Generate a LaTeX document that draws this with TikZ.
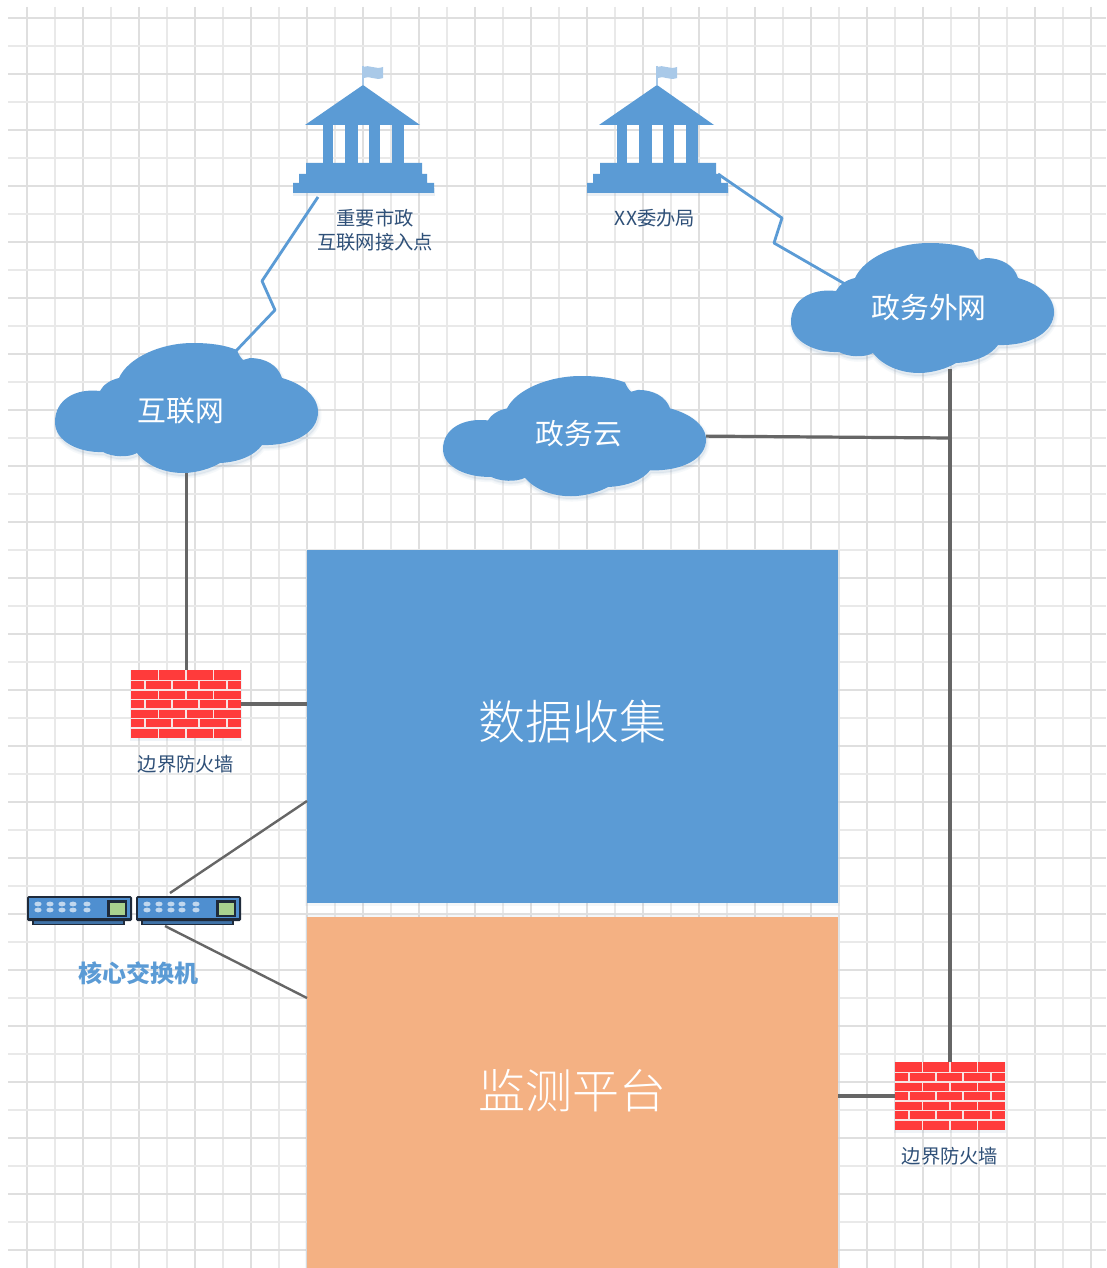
\documentclass[tikz,border=0pt]{standalone}
\usepackage{fontspec}
\setmainfont{Noto Sans CJK SC}
\newfontfamily\lightcjk[UprightFont=* Light]{Noto Sans CJK SC}
\usetikzlibrary{calc}
\definecolor{bluefill}{HTML}{5B9BD5}
\definecolor{orangefill}{HTML}{F4B183}
\definecolor{flagblue}{HTML}{A9C9E8}
\definecolor{gridA}{HTML}{DFDFDF}
\definecolor{gridB}{HTML}{E9E9E9}
\definecolor{wire}{HTML}{666666}
\definecolor{labelblue}{HTML}{2F5078}
\definecolor{brick}{HTML}{FF3B3B}
\definecolor{mortar}{HTML}{F8E4E4}
\definecolor{swdark}{HTML}{1F2A3A}
\definecolor{swblue}{HTML}{4F8FD0}
\definecolor{swgreen}{HTML}{A9D18E}
\definecolor{shadowblue}{HTML}{7F9FBF}
\tikzset{
  x=1pt,y=-1pt,
  gridmajor/.style={gridA,line width=1.7pt},
  gridminor/.style={gridB,line width=1.5pt},
  anchorbox/.style={rectangle,inner sep=0pt,outer sep=0pt,draw=none},
  wireline/.style={wire,line width=3.2pt},
  thinwire/.style={wire,line width=2.4pt},
  zigzag/.style={bluefill,line width=2.8pt},
  smalllabel/.style={inner sep=0pt,text=labelblue,font=\fontsize{19.3pt}{22pt}\selectfont},
  cloudlabel/.style={inner sep=0pt,text=white,font=\fontsize{28.8pt}{32pt}\selectfont},
  titlelabel/.style={inner sep=0pt,text=white,font=\lightcjk\fontsize{47pt}{52pt}\selectfont},
  softshadow/.style={fill=shadowblue,draw=shadowblue,opacity=.07,line join=round},
}
\newcommand{\cloudoutline}{
  (45,48) .. controls (20,45) and (0,57) .. (0,79)
  .. controls (0,99) and (25,110) .. (48,109)
  .. controls (57,114) and (73,115) .. (82,110)
  .. controls (92,123) and (110,130) .. (128,130)
  .. controls (142,130) and (157,125) .. (165,120)
  .. controls (185,119) and (200,112) .. (207,102)
  .. controls (240,103) and (263,89) .. (263,69)
  .. controls (263,52) and (245,40) .. (227,35)
  .. controls (223,22) and (210,15) .. (195,15)
  -- (188,17)
  .. controls (185,14) and (183,10) .. (182,7)
  .. controls (170,2) and (155,0) .. (138,0)
  .. controls (105,0) and (73,15) .. (64,35)
  .. controls (55,37) and (48,42) .. (45,48) -- cycle}
% name, left, top, yscale
\newcommand{\cloudshape}[4]{
  \begin{scope}[shift={(#2,#3)},yscale=#4]
    \path[softshadow,line width=5pt,shift={(1,3)}] \cloudoutline;
    \path[softshadow,line width=2pt,shift={(1,3)}] \cloudoutline;
    \fill[bluefill] \cloudoutline;
    \node[anchorbox,minimum width=263pt,minimum height={130pt*#4}] (#1) at (131.5,65) {};
  \end{scope}
}
% name, left, top
\newcommand{\firewall}[3]{
  \begin{scope}[shift={(#2,#3)}]
    \fill[shadowblue,opacity=.12] (-1,0) rectangle (111,71);
    \node[anchorbox,anchor=north west,minimum width=110pt,minimum height=68pt,fill=brick] (#1) at (0,0) {};
    \foreach \yy in {10.5,20,29.5,39,48.5,58}{\draw[mortar,line width=1.2pt] (0,\yy) -- (110,\yy);}
    \foreach \ya/\yb in {0/10.5,20/29.5,39/48.5,58/68}{
      \foreach \xx in {27.5,55,82.5}{\draw[mortar,line width=1.2pt] (\xx,\ya) -- (\xx,\yb);}
    }
    \foreach \ya/\yb in {10.5/20,29.5/39,48.5/58}{
      \foreach \xx in {14,41,68,96}{\draw[mortar,line width=1.2pt] (\xx,\ya) -- (\xx,\yb);}
    }
  \end{scope}
}
% name, apex x
\newcommand{\govbuilding}[2]{
  \begin{scope}[shift={(#2,0)}]
    \fill[flagblue] (0,67) .. controls (6,64) and (12,70) .. (20,67) -- (20,78) .. controls (12,81) and (6,75) .. (1,78) -- cycle;
    \draw[flagblue,line width=1.5pt] (0,66) -- (0,85);
    \fill[shadowblue,opacity=.15] (-70,188) rectangle (72,196);
    \fill[bluefill] (0,85) -- (57,125) -- (-58,125) -- cycle;
    \fill[bluefill] (-40,124) rectangle (-30,164);
    \fill[bluefill] (-18,124) rectangle (-5,164);
    \fill[bluefill] (6,124) rectangle (17,164);
    \fill[bluefill] (29,124) rectangle (41,164);
    \fill[bluefill] (-57,163) -- (59,163) -- (59,174) -- (64,174) -- (64,183) -- (71,183) -- (71,193) -- (-70,193) -- (-70,183) -- (-64,183) -- (-64,174) -- (-57,174) -- cycle;
    \node[anchorbox,minimum width=141pt,minimum height=128pt] (#1) at (0.5,129) {};
  \end{scope}
}
% name, left, width
\newcommand{\switchbox}[2]{
  \begin{scope}[shift={(#2,0)}]
    \fill[swdark] (5,918) rectangle (98,925);
    \fill[swblue!80!black] (7,920) rectangle (96,923.5);
    \node[anchorbox,anchor=north west,minimum width=105pt,minimum height=25pt,fill=swdark,rounded corners=1.5pt] (#1) at (0,896) {};
    \fill[swblue] (2,898) rectangle (103,918);
    \fill[swdark] (80,900) rectangle (100,917);
    \fill[swgreen] (82.5,902.5) rectangle (97.5,914.5);
    \foreach \xx in {11,23,35,46,60}{
      \foreach \yy in {904,910}{\fill[white,opacity=.65] (\xx,\yy) ellipse (3.6pt and 2.4pt);}
    }
  \end{scope}
}
\begin{document}
\begin{tikzpicture}
\useasboundingbox (0,0) rectangle (1106,1268);
\fill[white] (0,0) rectangle (1106,1268);
% grid
\foreach \k in {0,...,38}{
  \pgfmathtruncatemacro{\even}{mod(\k,2)==0}
  \pgfmathsetmacro{\gx}{27+28*\k}
  \ifnum\even=1 \draw[gridmajor] (\gx,7) -- (\gx,1268);
  \else \draw[gridminor] (\gx,7) -- (\gx,1268); \fi
}
\foreach \k in {0,...,44}{
  \pgfmathtruncatemacro{\even}{mod(\k,2)==0}
  \pgfmathsetmacro{\gy}{18+28*\k}
  \ifnum\even=1 \draw[gridmajor] (8,\gy) -- (1106,\gy);
  \else \draw[gridminor] (8,\gy) -- (1106,\gy); \fi
}
% main boxes
\fill[shadowblue,opacity=.08] (305,550) rectangle (840,906);
\fill[shadowblue,opacity=.08] (305,915) rectangle (840,1268);
\node[anchorbox,anchor=north west,minimum width=531pt,minimum height=353pt,fill=bluefill] (collect) at (307,550) {};
\node[anchorbox,anchor=north west,minimum width=531pt,minimum height=351pt,fill=orangefill] (monitor) at (307,917) {};
\node[titlelabel] (collecttext) at (572,722) {数据收集};
\node[titlelabel] (monitortext) at (572,1091) {监测平台};
% clouds
\cloudshape{netcloud}{55}{343}{1}
\cloudshape{govcloud}{443}{376}{0.925}
\cloudshape{extcloud}{791}{243}{1}
\node[cloudlabel] (nettext) at (181,411) {互联网};
\node[cloudlabel] (govtext) at (579,434) {政务云};
\node[cloudlabel] (exttext) at (929,308) {政务外网};
% buildings
\govbuilding{bldA}{363}
\govbuilding{bldB}{657}
\node[smalllabel] (bldAtextA) at (375,218) {重要市政};
\node[smalllabel] (bldAtextB) at (375,242) {互联网接入点};
\node[smalllabel] (bldBtext) at (655,218) {XX委办局};
% firewalls
\firewall{fwA}{131}{670}
\firewall{fwB}{895}{1062}
\node[smalllabel] (fwAtext) at (186,764) {边界防火墙};
\node[smalllabel] (fwBtext) at (950,1156) {边界防火墙};
% switches
\switchbox{swA}{27}
\switchbox{swB}{136}
\node[inner sep=0pt,text=bluefill,font=\bfseries\fontsize{24pt}{28pt}\selectfont] (swtext) at (138,973) {核心交换机};
% connector ends
\coordinate (bldAfoot) at (318,197);
\coordinate (zigA) at (262,281);
\coordinate (zigB) at (275,310);
\coordinate (netNE) at (235,352);
\coordinate (bldBfoot) at (718,174);
\coordinate (zigC) at (782,218);
\coordinate (zigD) at (774,243);
\coordinate (extNW) at (845,284);
\coordinate (junction) at (950,438);
\coordinate (swBtop) at (170,893);
\coordinate (swBbottom) at (165,926);
\coordinate (collectLow) at (307,801);
\coordinate (monitorHigh) at (307,998);
% connectors
\draw[zigzag,line join=round] (bldAfoot) -- (zigA) -- (zigB) -- (netNE);
\draw[zigzag,line join=round] (bldBfoot) -- (zigC) -- (zigD) -- (extNW);
\draw[wireline] (netcloud.south) -- (netcloud.south |- fwA.north);
\draw[wireline] (fwA.east) -- (fwA.east -| collect.west);
\draw[thinwire] (swBtop) -- (collectLow);
\draw[thinwire] (swBbottom) -- (monitorHigh);
\draw[wireline] ($(junction |- extcloud.south)+(0,-4)$) -- (junction |- fwB.north);
\draw[wireline] (govcloud.east) -- (junction);
\draw[wireline] (fwB.west) -- (fwB.west -| monitor.east);
\end{tikzpicture}
\end{document}
